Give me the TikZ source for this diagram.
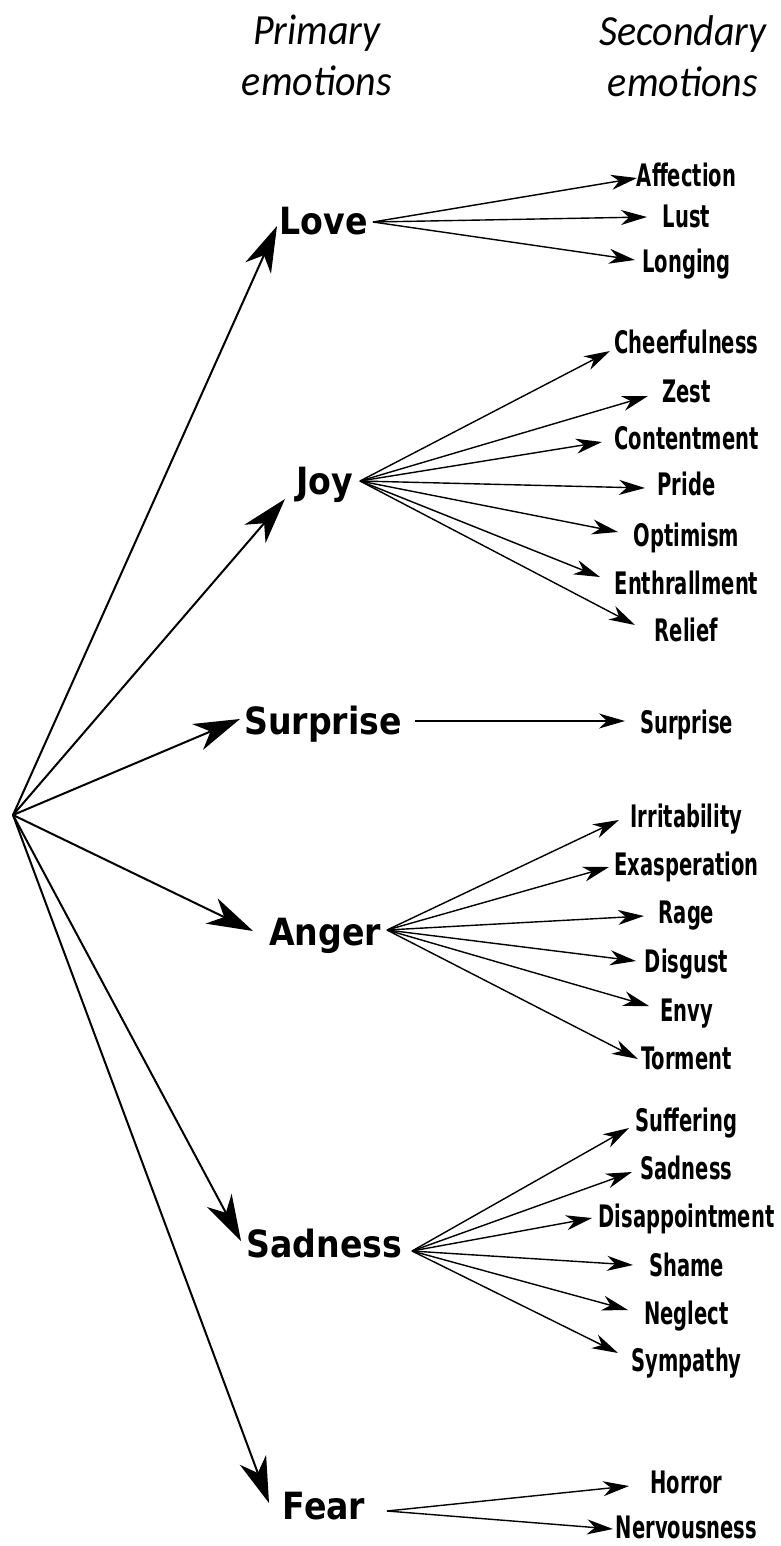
\documentclass[tikz,border=0pt]{standalone}
\usepackage{fontspec}
\usetikzlibrary{arrows.meta,calc}
\newfontfamily\headfont[FakeStretch=0.93]{Carlito}
\newfontfamily\primfont[FakeStretch=0.885]{DejaVu Sans}
\newfontfamily\secfont[FakeStretch=0.63]{DejaVu Sans}
\begin{document}
\begin{tikzpicture}[x=1pt,y=-1pt,
  prim/.style={font=\primfont\bfseries\fontsize{37.5}{40}\selectfont, inner sep=0pt, text height=27pt, text depth=0pt},
  sec/.style={font=\secfont\bfseries\fontsize{31}{33}\selectfont, inner sep=0pt, text height=22.5pt, text depth=0pt},
  head/.style={font=\headfont\itshape\fontsize{43}{51}\selectfont, align=center, inner sep=0pt, anchor=north},
  parrow/.style={line width=2pt, -{Stealth[length=46pt,width=28pt,inset=14pt]}},
  sarrow/.style={line width=1.4pt, -{Stealth[length=26pt,width=15pt,inset=8pt]}},
]
\useasboundingbox (0,0) rectangle (781,1546);

% headers
\node[head] (primhead) at (317,15) {Primary\\emotions};
\node[head] (sechead) at (683,15) {Secondary\\emotions};

% root
\coordinate (root) at (13,815);

% primary emotions
\node[prim] (love) at (323.5,221.5) {Love};
\node[prim] (joy) at (324.5,480.5) {Joy};
\node[prim] (surprise) at (323,721) {Surprise};
\node[prim] (anger) at (325,932) {Anger};
\node[prim] (sadness) at (324.5,1243.5) {Sadness};
\node[prim] (fear) at (324,1505.5) {Fear};

\draw[parrow] (root) -- ($(love.center)+(-46.5,4.5)$);
\draw[parrow] (root) -- ($(joy.center)+(-39.5,18.5)$);
\draw[parrow] (root) -- ($(surprise.center)+(-83,-2)$);
\draw[parrow] (root) -- ($(anger.center)+(-72,-1)$);
\draw[parrow] (root) -- ($(sadness.center)+(-83.5,-2.5)$);
\draw[parrow] (root) -- ($(fear.center)+(-55,-2.5)$);

% outgoing points
\coordinate (love-out) at ($(love.center)+(49.5,0.5)$);
\coordinate (joy-out) at ($(joy.center)+(35.5,0.5)$);
\coordinate (surprise-out) at ($(surprise.center)+(92,0)$);
\coordinate (anger-out) at ($(anger.center)+(62,-2)$);
\coordinate (sadness-out) at ($(sadness.center)+(87.5,7.5)$);
\coordinate (fear-out) at ($(fear.center)+(63,5.5)$);

% secondary emotions
\foreach \n/\t/\y/\dx/\dy/\s in {
  affection/Affection/175/-49.5/3/love-out,
  lust/Lust/216/-39.5/1/love-out,
  longing/Longing/261/-51.5/-1/love-out,
  cheerfulness/Cheerfulness/342.5/-76.5/8.5/joy-out,
  zest/Zest/391/-38.5/5/joy-out,
  contentment/Contentment/438/-84.5/4/joy-out,
  pride/Pride/484.5/-41.5/3.5/joy-out,
  optimism/Optimism/535/-68.5/-3/joy-out,
  enthrallment/Enthrallment/583/-86.5/-6/joy-out,
  relief/Relief/630/-51.5/-5/joy-out,
  surprise2/Surprise/722/-61.5/-1/surprise-out,
  irritability/Irritability/816/-67.5/4/anger-out,
  exasperation/Exasperation/864/-77.5/3/anger-out,
  rage/Rage/912.5/-42.5/3.5/anger-out,
  disgust/Disgust/961/-50.5/0/anger-out,
  envy/Envy/1010/-37.5/-4/anger-out,
  torment/Torment/1058/-48.5/1/anger-out,
  suffering/Suffering/1120/-57.5/8/sadness-out,
  sadness2/Sadness/1168/-54.5/4/sadness-out,
  disappointment/Disappointment/1216/-94.5/2/sadness-out,
  shame/Shame/1265/-53.5/0/sadness-out,
  neglect/Neglect/1313/-58.5/-3/sadness-out,
  sympathy/Sympathy/1360/-68.5/-7/sadness-out,
  horror/Horror/1482/-57.5/4/fear-out,
  nervousness/Nervousness/1527/-73.5/2/fear-out}
{
  \node[sec] (\n) at (686.5,\y) {\t};
  \draw[sarrow] (\s) -- ($(\n.center)+(\dx,\dy)$);
}
\end{tikzpicture}
\end{document}
